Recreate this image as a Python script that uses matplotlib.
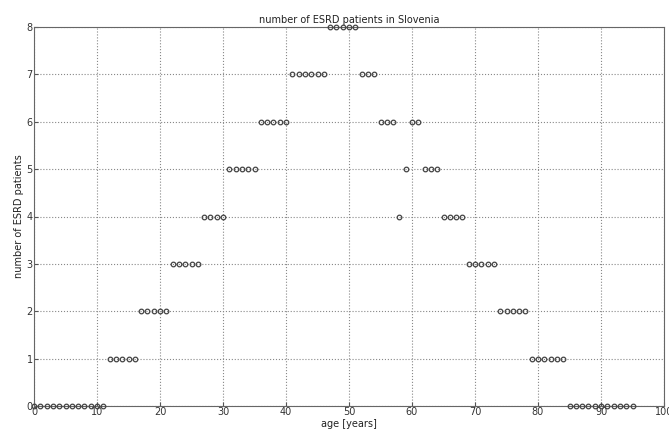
import numpy as np
import matplotlib
matplotlib.use("Agg")
import matplotlib.pyplot as plt

# age in years, one patient count per age
ages = list(range(0, 96))
patients = [0] * 12 + [1] * 5 + [2] * 5 + [3] * 5 + [4] * 4 + [5] * 5 + [6] * 5 \
    + [7] * 6 + [8] * 5 + [7] * 3 + [6] * 3 + [4, 5, 6, 6] + [5] * 3 + [4] * 4 \
    + [3] * 5 + [2] * 5 + [1] * 6 + [0] * 11

FONTSIZE = 7

fig = plt.figure(figsize=(6.69, 4.34), dpi=100)
ax = fig.add_axes([34 / 669, 28 / 434, 630 / 669, 379 / 434])

ax.plot(ages, patients, linestyle="none", marker="o", markersize=3.3,
        markerfacecolor="none", markeredgecolor="#444444", markeredgewidth=0.9,
        clip_on=False, zorder=3)

ax.set_xlim(0, 100)
ax.set_ylim(0, 8)
ax.set_xticks(np.arange(0, 101, 10))
ax.set_yticks(np.arange(0, 9, 1))
ax.grid(True, linestyle=":", color="#888888", linewidth=0.8)
ax.tick_params(direction="in", labelsize=FONTSIZE, length=3, color="#555555",
               labelcolor="#333333", pad=1)
for s in ax.spines.values():
    s.set_color("#666666")
    s.set_linewidth(0.8)

ax.set_title("number of ESRD patients in Slovenia", fontsize=FONTSIZE, color="#222222", pad=3)
ax.set_xlabel("age [years]", fontsize=FONTSIZE, color="#222222", labelpad=1)
ax.set_ylabel("number of ESRD patients", fontsize=FONTSIZE, color="#222222", labelpad=2)

fig.savefig("out.png", dpi=100)
